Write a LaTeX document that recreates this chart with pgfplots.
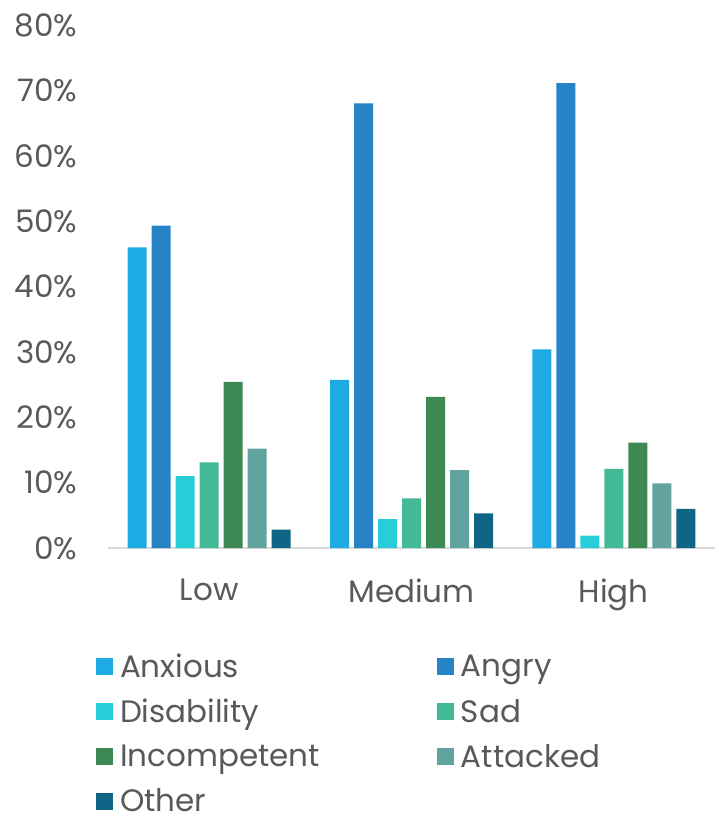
\documentclass[border=0pt]{standalone}
\usepackage{pgfplots}
\pgfplotsset{compat=1.18}
\usepackage{pgfplotstable}
\usepackage{fontspec}
\setmainfont{Poppins}
\definecolor{cAnx}{HTML}{1EAAE2}
\definecolor{cAng}{HTML}{2683C6}
\definecolor{cDis}{HTML}{27CED7}
\definecolor{cSad}{HTML}{42BA97}
\definecolor{cInc}{HTML}{3E8853}
\definecolor{cAtt}{HTML}{62A39F}
\definecolor{cOth}{HTML}{106586}
\definecolor{txt}{HTML}{595959}
\definecolor{axl}{HTML}{D9D9D9}
\pgfplotstableread{
cat Anxious Angry Disability Sad Incompetent Attacked Other
0 46.0 49.3 11.0 13.1 25.4 15.2 2.8
1 25.7 68.0 4.4 7.6 23.1 11.9 5.3
2 30.4 71.1 1.9 12.1 16.1 9.9 6.0
}\datatable
\begin{document}
\begin{tikzpicture}
\useasboundingbox (-108pt,-268pt) rectangle (610pt,548pt);
\begin{axis}[
  anchor=south west, at={(0,0)},
  scale only axis, width=607pt, height=523pt,
  ybar=5pt, bar width=19pt,
  xmin=-0.5, xmax=2.5, ymin=0, ymax=80,
  xtick=data, xticklabels={Low,Medium,High},
  ytick={0,10,...,80},
  yticklabel={\pgfmathprintnumber{\tick}\%},
  /pgf/number format/assume math mode=true,
  axis x line*=bottom, axis y line*=left,
  x axis line style={draw=axl, line width=1.2pt},
  y axis line style={draw=none},
  major tick length=0pt,
  tick label style={font=\fontsize{31}{36}\selectfont, text=txt},
  xticklabel style={yshift=-27pt},
  yticklabel style={anchor=east, xshift=-27pt},
  every axis plot/.append style={draw=none},
  legend columns=2,
  legend style={draw=none, at={(-0.025,-0.195)}, anchor=north west,
    font=\fontsize{31}{36}\selectfont, text=txt,
    /tikz/every odd column/.append style={column sep=5pt},
    /tikz/every even column/.append style={column sep=115pt},
    row sep=16pt, cells={anchor=west}},
  legend image code/.code={\fill[#1] (0pt,-8.5pt) rectangle (17pt,8.5pt);},
]
\addplot[fill=cAnx] table[x=cat,y=Anxious]{\datatable};
\addplot[fill=cAng] table[x=cat,y=Angry]{\datatable};
\addplot[fill=cDis] table[x=cat,y=Disability]{\datatable};
\addplot[fill=cSad] table[x=cat,y=Sad]{\datatable};
\addplot[fill=cInc] table[x=cat,y=Incompetent]{\datatable};
\addplot[fill=cAtt] table[x=cat,y=Attacked]{\datatable};
\addplot[fill=cOth] table[x=cat,y=Other]{\datatable};
\legend{Anxious,Angry,Disability,Sad,Incompetent,Attacked,Other}
\end{axis}
\end{tikzpicture}
\end{document}
